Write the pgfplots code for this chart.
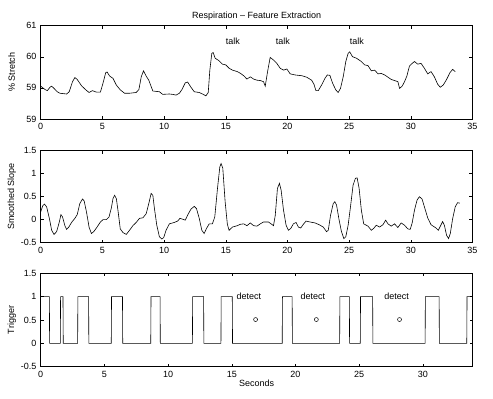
\documentclass[border=0pt]{standalone}
\usepackage{pgfplots}
\pgfplotsset{compat=1.18}
\usepackage{fontspec}
\setmainfont{Liberation Sans}
\begin{document}
\begin{tikzpicture}
\fontsize{9}{10}\selectfont
\path[use as bounding box] (0,0) rectangle (493pt,399pt);
\pgfplotsset{
  every axis/.append style={
    scale only axis, anchor=south west, width=431.8pt,
    tick align=inside, major tick length=3pt,
    /pgf/number format/assume math mode=true,
    tick label style={font=\fontsize{9}{10}\selectfont},
    label style={font=\fontsize{9}{10}\selectfont},
    axis line style={line width=0.6pt},
    every tick/.style={line width=0.5pt, black},
    yticklabel style={xshift=-1pt},
    xticklabel style={yshift=-1pt},
    ylabel style={at={([xshift=-29pt]axis description cs:0,0.5)}, anchor=center},
    scaled ticks=false,
  }
}
% ---------- top panel ----------
\begin{axis}[at={(40.7pt,280pt)}, height=93.3pt,
  xmin=0, xmax=35, ymin=58.5, ymax=61,
  xtick={0,5,...,35},
  ytick={58.5,59.3333,60.1667,61}, yticklabels={59,59,60,61},
  ylabel={\% Stretch},
  title={Respiration -- Feature Extraction},
  title style={font=\fontsize{9}{10}\selectfont, yshift=-4pt},
]
\addplot[black, line width=0.6pt] coordinates {
(0,59.38)(0.35,59.29)(0.54,59.26)(0.75,59.35)(0.89,59.38)(1.08,59.32)(1.34,59.23)(1.56,59.19)(2.10,59.17)(2.31,59.23)(2.58,59.50)(2.77,59.61)(2.96,59.56)(3.31,59.39)(3.66,59.28)(3.92,59.21)(4.19,59.26)(4.52,59.22)(4.84,59.22)(5.05,59.46)(5.27,59.74)(5.38,59.76)(5.59,59.65)(5.86,59.59)(6.13,59.41)(6.45,59.28)(6.80,59.19)(7.20,59.19)(7.74,59.21)(7.96,59.29)(8.15,59.63)(8.33,59.79)(8.55,59.65)(8.76,59.54)(9.09,59.25)(9.62,59.23)(9.89,59.16)(10.43,59.17)(10.70,59.16)(10.97,59.14)(11.24,59.19)(11.45,59.29)(11.72,59.47)(11.91,59.49)(12.18,59.35)(12.45,59.23)(12.85,59.21)(13.12,59.17)(13.39,59.12)(13.58,59.21)(13.71,59.81)(13.87,60.26)(13.98,60.28)(14.14,60.13)(14.46,60.06)(14.73,59.97)(15.0,59.95)(15.27,59.86)(15.54,59.81)(15.94,59.77)(16.21,59.72)(16.45,59.66)(16.72,59.57)(16.99,59.63)(17.26,59.57)(17.53,59.54)(17.80,59.53)(18.06,59.50)(18.20,59.38)(18.39,59.77)(18.60,60.15)(18.87,60.08)(19.14,59.99)(19.41,59.86)(19.68,59.81)(19.95,59.84)(20.22,59.71)(20.62,59.68)(21.16,59.66)(21.56,59.62)(21.96,59.54)(22.15,59.43)(22.31,59.26)(22.50,59.26)(22.77,59.41)(23.04,59.59)(23.23,59.68)(23.44,59.67)(23.66,59.46)(23.92,59.28)(24.11,59.21)(24.30,59.32)(24.52,59.63)(24.73,60.04)(24.92,60.26)(25.05,60.30)(25.27,60.17)(25.59,60.13)(25.99,60.04)(26.26,59.95)(26.53,59.93)(26.80,59.79)(27.07,59.81)(27.34,59.71)(27.61,59.72)(27.88,59.68)(28.15,59.62)(28.41,59.56)(28.68,59.53)(28.95,59.50)(29.09,59.32)(29.30,59.38)(29.49,59.50)(29.68,59.65)(29.89,59.92)(30.11,59.99)(30.30,60.04)(30.56,59.97)(30.83,59.99)(31.10,59.86)(31.37,59.71)(31.64,59.77)(31.91,59.63)(32.18,59.43)(32.39,59.35)(32.63,59.41)(32.90,59.56)(33.17,59.74)(33.39,59.83)(33.60,59.77)
};
\node[anchor=west, inner sep=0pt] at (axis cs:15,60.57) {talk};
\node[anchor=west, inner sep=0pt] at (axis cs:19.05,60.57) {talk};
\node[anchor=west, inner sep=0pt] at (axis cs:25.05,60.57) {talk};
\end{axis}
% ---------- middle panel ----------
\begin{axis}[at={(40.7pt,156.3pt)}, height=92pt,
  xmin=0, xmax=35, ymin=-0.5, ymax=1.5,
  xtick={0,5,...,35}, ytick={-0.5,0,0.5,1,1.5},
  ylabel={Smoothed Slope},
]
\addplot[black, line width=0.6pt] coordinates {
(0,0.17)(0.16,0.30)(0.30,0.34)(0.48,0.28)(0.70,0.03)(0.89,-0.23)(1.08,-0.32)(1.29,-0.26)(1.51,-0.05)(1.64,0.11)(1.77,0.06)(1.96,-0.13)(2.10,-0.21)(2.28,-0.16)(2.50,-0.06)(2.77,0.03)(2.96,0.11)(3.17,0.35)(3.39,0.45)(3.52,0.41)(3.71,0.17)(3.92,-0.16)(4.11,-0.30)(4.30,-0.26)(4.57,-0.16)(4.84,-0.05)(5.05,0.00)(5.32,0.00)(5.54,0.06)(5.73,0.26)(5.86,0.46)(5.99,0.53)(6.13,0.46)(6.26,0.21)(6.45,-0.20)(6.67,-0.28)(6.94,-0.32)(7.20,-0.23)(7.47,-0.13)(7.74,-0.06)(8.01,0.03)(8.28,0.04)(8.55,0.13)(8.76,0.35)(8.95,0.57)(9.09,0.53)(9.22,0.24)(9.41,-0.12)(9.62,-0.37)(9.81,-0.42)(9.97,-0.39)(10.16,-0.23)(10.43,-0.09)(10.83,-0.06)(11.10,-0.03)(11.29,0.03)(11.51,0.01)(11.72,-0.01)(11.91,0.10)(12.18,0.23)(12.45,0.29)(12.63,0.24)(12.85,0.03)(13.06,-0.23)(13.25,-0.30)(13.44,-0.19)(13.66,-0.09)(13.92,-0.09)(14.11,0.06)(14.33,0.68)(14.52,1.15)(14.62,1.22)(14.76,1.12)(14.95,0.39)(15.13,-0.10)(15.27,-0.23)(15.54,-0.16)(15.94,-0.13)(16.18,-0.10)(16.45,-0.09)(16.72,-0.13)(16.99,-0.07)(17.26,-0.13)(17.53,-0.14)(17.80,-0.09)(18.06,-0.05)(18.47,-0.05)(18.87,-0.13)(19.01,0.09)(19.19,0.68)(19.35,0.79)(19.49,0.64)(19.68,0.21)(19.89,-0.12)(20.08,-0.23)(20.27,-0.19)(20.48,-0.09)(20.70,-0.06)(20.89,-0.16)(21.08,-0.18)(21.29,-0.10)(21.51,-0.03)(21.83,-0.05)(22.23,-0.07)(22.58,-0.11)(22.90,-0.16)(23.17,-0.26)(23.31,-0.23)(23.49,0.09)(23.71,0.35)(23.84,0.39)(23.98,0.32)(24.19,-0.01)(24.38,-0.26)(24.57,-0.41)(24.73,-0.37)(24.92,-0.12)(25.11,0.28)(25.32,0.75)(25.51,0.90)(25.65,0.91)(25.81,0.68)(25.99,0.21)(26.18,-0.09)(26.53,-0.14)(26.80,-0.23)(26.99,-0.19)(27.20,-0.12)(27.47,-0.16)(27.74,-0.11)(27.96,-0.01)(28.15,-0.09)(28.41,-0.14)(28.68,-0.09)(28.95,-0.17)(29.22,-0.07)(29.49,-0.12)(29.76,-0.20)(29.95,-0.21)(30.11,-0.07)(30.30,0.21)(30.51,0.43)(30.70,0.50)(30.91,0.45)(31.10,0.28)(31.37,0.04)(31.64,-0.11)(32.04,-0.18)(32.23,-0.23)(32.45,-0.11)(32.58,-0.04)(32.72,-0.12)(32.90,-0.34)(33.06,-0.41)(33.20,-0.30)(33.39,0.02)(33.60,0.28)(33.79,0.37)(33.98,0.36)
};
\end{axis}
% ---------- bottom panel ----------
\begin{axis}[at={(40.7pt,32.3pt)}, height=93.4pt,
  xmin=0, xmax=33.9, ymin=-0.5, ymax=1.5,
  xtick={0,5,...,30}, ytick={-0.5,0,0.5,1,1.5},
  ylabel={Trigger}, xlabel={Seconds},
  xlabel style={yshift=3pt},
]
\addplot[black, line width=0.6pt] coordinates {
(0,1)(0.68,1)(0.70,0)(1.54,0)(1.56,1)(1.75,1)(1.77,0)(2.90,0)(2.92,1)(3.76,1)(3.78,0)(5.54,0)(5.56,1)(6.42,1)(6.44,0)(8.64,0)(8.66,1)(9.37,1)(9.39,0)(11.91,0)(11.93,1)(12.79,1)(12.81,0)(14.15,0)(14.17,1)(15.04,1)(15.06,0)(18.96,0)(18.98,1)(19.74,1)(19.76,0)(23.47,0)(23.49,1)(24.23,1)(24.25,0)(25.09,0)(25.11,1)(26.06,1)(26.08,0)(30.18,0)(30.20,1)(31.28,1)(31.30,0)(33.45,0)(33.47,1)(33.9,1)
};
\addplot[only marks, mark=o, mark size=2pt, black, mark options={line width=0.5pt}] coordinates {
(16.87,0.51)(21.64,0.51)(28.17,0.51)
};
\node[anchor=center, inner sep=0pt] at (axis cs:16.35,1.0) {detect};
\node[anchor=center, inner sep=0pt] at (axis cs:21.36,1.0) {detect};
\node[anchor=center, inner sep=0pt] at (axis cs:27.94,1.0) {detect};
\end{axis}
\end{tikzpicture}
\end{document}
